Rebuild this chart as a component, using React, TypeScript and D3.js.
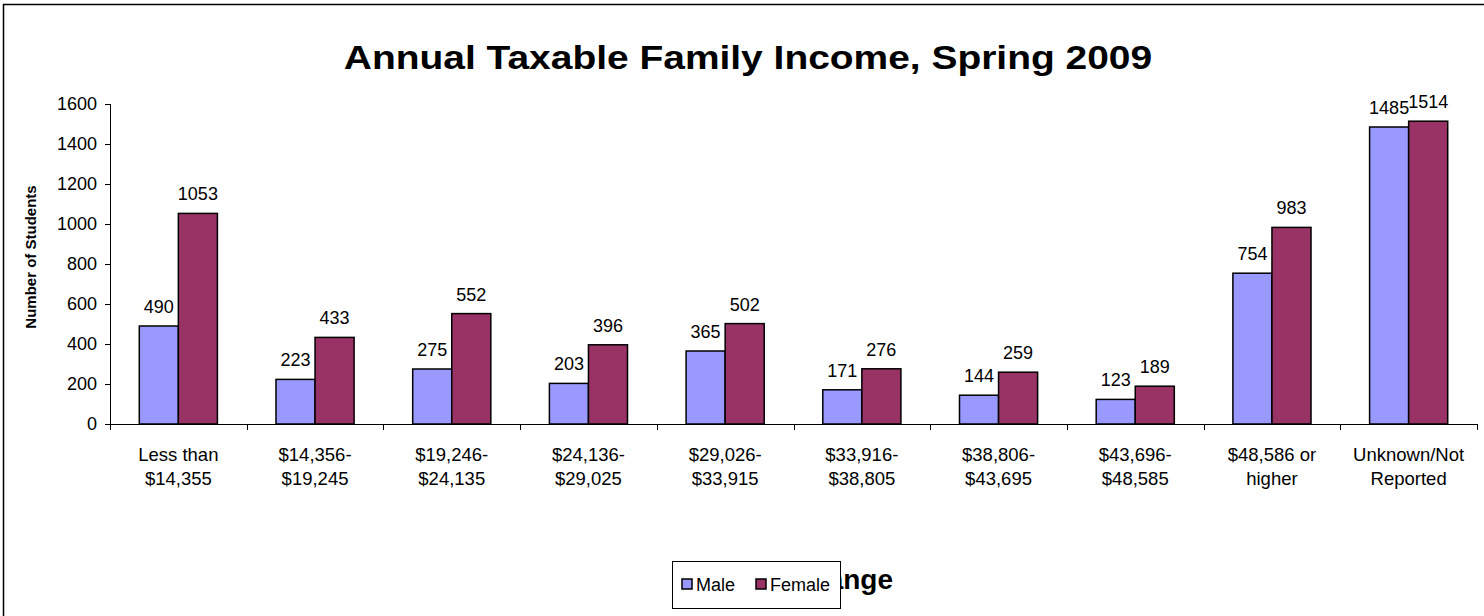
import * as d3 from 'd3'

const categories = [
  ['Less than', '$14,355'],
  ['$14,356-', '$19,245'],
  ['$19,246-', '$24,135'],
  ['$24,136-', '$29,025'],
  ['$29,026-', '$33,915'],
  ['$33,916-', '$38,805'],
  ['$38,806-', '$43,695'],
  ['$43,696-', '$48,585'],
  ['$48,586 or', 'higher'],
  ['Unknown/Not', 'Reported'],
]
const maleValues = [490, 223, 275, 203, 365, 171, 144, 123, 754, 1485]
const femaleValues = [1053, 433, 552, 396, 502, 276, 259, 189, 983, 1514]
const yTicks = [0, 200, 400, 600, 800, 1000, 1200, 1400, 1600]
const seriesNames = ['Male', 'Female']
const seriesColors = ['#9999FF', '#993366']

const W = 1484
const H = 616
const font = '"Liberation Sans", Arial, sans-serif'

export default function App() {
  const plot = { left: 110, right: 1477, top: 104, bottom: 424 }
  const keys = categories.map((_, i) => String(i))

  // excel-style gap width of 150%
  const gap = 1.5 / 3.5
  const x = d3.scaleBand<string>().domain(keys).range([plot.left, plot.right]).paddingInner(gap).paddingOuter(gap / 2)
  const xs = d3.scaleBand<string>().domain(seriesNames).range([0, x.bandwidth()])
  const y = d3.scaleLinear().domain([0, 1600]).range([plot.bottom, plot.top])
  const step = x.step()

  const series = [maleValues, femaleValues]

  return (
    <div style={{ position: 'absolute', left: 0, top: 0 }}>
      <svg width={W} height={H} style={{ display: 'block', fontFamily: font }}>
        <rect x={0} y={0} width={W} height={H} fill="#fff" />
        <rect x={3.5} y={4.5} width={W + 20} height={H + 20} fill="none" stroke="#000" strokeWidth={1.5} />

        {/* the title in the original is stretched sideways */}
        <text transform="translate(748,69) scale(1.18,1)" textAnchor="middle" fontSize={33} fontWeight="bold">
          Annual Taxable Family Income, Spring 2009
        </text>

        {/* y axis */}
        <line x1={plot.left + 0.5} x2={plot.left + 0.5} y1={plot.top} y2={plot.bottom} stroke="#000" />
        {yTicks.map(t => (
          <g key={t}>
            <line x1={plot.left - 5} x2={plot.left} y1={Math.round(y(t)) + 0.5} y2={Math.round(y(t)) + 0.5} stroke="#000" />
            <text x={97} y={y(t) + 6} textAnchor="end" fontSize={18}>{t}</text>
          </g>
        ))}
        <text transform={`translate(36,257) rotate(-90)`} textAnchor="middle" fontSize={15} fontWeight="bold">
          Number of Students
        </text>

        {/* bars */}
        {series.map((vals, s) =>
          vals.map((v, i) => {
            const bx = (x(String(i)) ?? 0) + (xs(seriesNames[s]) ?? 0)
            return (
              <g key={`${s}-${i}`}>
                <rect
                  x={bx}
                  y={y(v)}
                  width={xs.bandwidth()}
                  height={plot.bottom - y(v)}
                  fill={seriesColors[s]}
                  stroke="#000"
                  strokeWidth={1.5}
                />
                <text x={bx + xs.bandwidth() / 2} y={y(v) - 13} textAnchor="middle" fontSize={18}>{v}</text>
              </g>
            )
          })
        )}

        {/* x axis */}
        <line x1={plot.left} x2={plot.right} y1={plot.bottom + 0.5} y2={plot.bottom + 0.5} stroke="#000" />
        {d3.range(categories.length + 1).map(i => {
          const tx = Math.round(plot.left + i * step) + 0.5
          return <line key={i} x1={tx} x2={tx} y1={plot.bottom} y2={plot.bottom + 6} stroke="#000" />
        })}
        {categories.map((lines, i) => {
          const cx = (x(String(i)) ?? 0) + x.bandwidth() / 2
          return (
            <text key={i} x={cx} textAnchor="middle" fontSize={18.5}>
              <tspan x={cx} y={461}>{lines[0]}</tspan>
              <tspan x={cx} y={485}>{lines[1]}</tspan>
            </text>
          )
        })}

        {/* axis title, mostly hidden behind the legend like in the original */}
        <text x={893} y={589} textAnchor="end" fontSize={28} fontWeight="bold">Income Range</text>

        {/* legend */}
        <rect x={672.5} y={561.5} width={168} height={47} fill="#fff" stroke="#000" strokeWidth={1} />
        {seriesNames.map((n, s) => {
          const lx = s === 0 ? 682 : 756
          return (
            <g key={n}>
              <rect x={lx} y={579} width={10} height={10} fill={seriesColors[s]} stroke="#000" strokeWidth={1.5} />
              <text x={lx + 14} y={591} fontSize={18}>{n}</text>
            </g>
          )
        })}
      </svg>
    </div>
  )
}
